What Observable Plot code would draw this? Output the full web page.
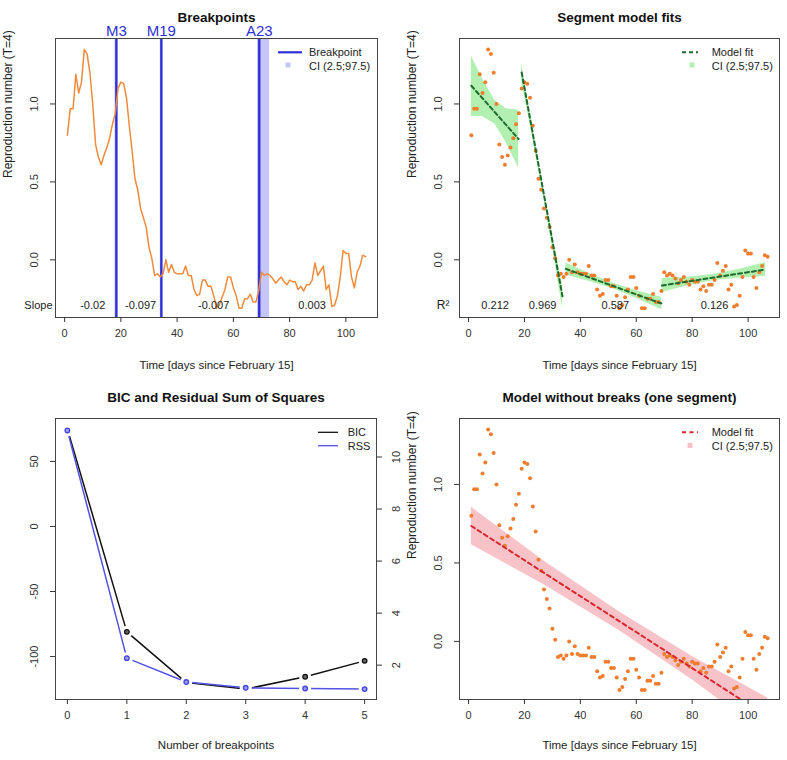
<!DOCTYPE html>
<html>
<head>
<meta charset="utf-8">
<script src="https://cdn.jsdelivr.net/npm/d3@7"></script>
<script src="https://cdn.jsdelivr.net/npm/@observablehq/plot@0.6"></script>
<style>
  html, body { margin: 0; padding: 0; background: #fff; }
  #wrap { position: relative; width: 787px; height: 760px; background: #fff; font-family: "Liberation Sans", Arial, Helvetica, sans-serif; }
  #wrap > * { position: absolute; }
</style>
</head>
<body>
<div id="wrap"></div>
<script>
// ---------- data ----------
const days = d3.range(1, 108);
const rValues = [
  0.80, 0.97, 0.97, 1.19, 1.07, 1.14, 1.35, 1.32, 1.20, 1.00,
  0.74, 0.66, 0.61, 0.67, 0.72, 0.78, 0.87, 0.94, 1.10, 1.14,
  1.13, 1.04, 0.86, 0.70, 0.52, 0.45, 0.33, 0.27, 0.21, 0.08,
  0.01, -0.10, -0.09, -0.11, -0.09, 0.00, -0.08, -0.03, -0.08, -0.09,
  -0.09, -0.09, -0.04, -0.10, -0.10, -0.19, -0.23, -0.22, -0.13, -0.13,
  -0.17, -0.17, -0.23, -0.31, -0.29, -0.24, -0.19, -0.11, -0.11, -0.18,
  -0.23, -0.31, -0.31, -0.25, -0.25, -0.22, -0.27, -0.27, -0.20, -0.08,
  -0.10, -0.09, -0.10, -0.12, -0.15, -0.13, -0.11, -0.14, -0.16, -0.13,
  -0.14, -0.14, -0.19, -0.17, -0.20, -0.16, -0.16, -0.13, -0.02, -0.10,
  -0.07, -0.04, -0.19, -0.16, -0.30, -0.29, -0.23, -0.11, 0.06, 0.04,
  0.04, -0.11, -0.18, -0.08, -0.04, 0.03, 0.02
];

// breakpoints
const bpLabels = ["M3", "M19", "A23"];
const bpDays = [18.4, 34.4, 69.2];
const bpCiLo = [17.9, 34.0, 68.6];
const bpCiHi = [18.9, 34.8, 72.9];

// slopes & R² per segment
const segLabelX = [10, 27, 53, 88];
const slopeLabels = ["-0.02", "-0.097", "-0.007", "0.003"];
const r2LabelX = [9.5, 26.5, 52.5, 88];
const r2Labels = ["0.212", "0.969", "0.587", "0.126"];

// segment model fits (x, fit, CI)
const segId  = [1, 1, 1, 1, 1,   2, 2, 2, 2, 2,   3, 3, 3, 3, 3,   4, 4, 4, 4, 4];
const segX   = [1, 5, 9.5, 13.5, 17.9,   19, 22.65, 26.3, 29.95, 33.6,   34.8, 43.35, 51.9, 60.45, 69,   69.2, 78.5, 87.8, 97, 106.3];
const segFit = [1.117, 1.036, 0.945, 0.864, 0.775,   1.202, 0.843, 0.484, 0.125, -0.234,   -0.058, -0.114, -0.169, -0.225, -0.280,   -0.165, -0.139, -0.113, -0.088, -0.062];
const segLo  = [0.92, 0.92, 0.87, 0.75, 0.59,   1.142, 0.808, 0.459, 0.085, -0.309,   -0.098, -0.139, -0.187, -0.250, -0.320,   -0.210, -0.167, -0.133, -0.116, -0.107];
const segHi  = [1.31, 1.16, 1.02, 0.97, 0.96,   1.262, 0.878, 0.509, 0.165, -0.159,   -0.018, -0.089, -0.151, -0.200, -0.240,   -0.120, -0.111, -0.093, -0.060, -0.017];

// model without breaks
const nbX   = [1, 27.5, 54, 80.5, 107];
const nbFit = [0.735, 0.431, 0.128, -0.176, -0.480];
const nbLo  = [0.615, 0.356, 0.068, -0.251, -0.600];
const nbHi  = [0.855, 0.506, 0.188, -0.101, -0.360];

// BIC and RSS
const nBreaks = [0, 1, 2, 3, 4, 5];
const bicValues = [75, -81, -120, -125, -115.5, -103.3];
const rssValues = [11.02, 2.27, 1.35, 1.13, 1.10, 1.08];

// ticks
const dayTicks = [0, 20, 40, 60, 80, 100];
const rTicks = [0, 0.5, 1.0];
const bicTicks = [-100, -50, 0, 50];
const rssTicks = [2, 4, 6, 8, 10];

// ---------- tables ----------
const series = days.map((d, i) => ({day: d, r: rValues[i]}));
const bps = bpDays.map((d, i) => ({day: d, label: bpLabels[i], lo: bpCiLo[i], hi: bpCiHi[i]}));
const slopes = segLabelX.map((x, i) => ({x, label: slopeLabels[i]}));
const r2s = r2LabelX.map((x, i) => ({x, label: r2Labels[i]}));
const segs = segX.map((x, i) => ({seg: segId[i], x, fit: segFit[i], lo: segLo[i], hi: segHi[i]}));
const nb = nbX.map((x, i) => ({x, fit: nbFit[i], lo: nbLo[i], hi: nbHi[i]}));
const bic = nBreaks.map((n, i) => ({n, bic: bicValues[i], rss: rssValues[i]}));

// ---------- styling ----------
const FONT = "Liberation Sans, Arial, Helvetica, sans-serif";
const ORANGE = "#ef7d2d";
const BLUE = "#2f2fd6";
const baseStyle = {fontFamily: FONT, fontSize: "11px", background: "transparent", color: "#333", overflow: "visible"};
const xDomain = [-3.24, 111.24];
const yDomain = [-0.37, 1.42];
const fmt1 = d3.format(".1f");

function place(el, left, top) {
  el.style.left = left + "px";
  el.style.top = top + "px";
  document.getElementById("wrap").appendChild(el);
}

function commonMarks(title, xTitle, yTitle, xTicks, yTicks, yFmt, xTitleDy) {
  const m = [
    Plot.frame({stroke: "#444"}),
    Plot.axisX({ticks: xTicks, tickSize: 5, tickPadding: 7, label: null, tickFormat: d => String(d)}),
    Plot.axisY({ticks: yTicks, tickFormat: yFmt, tickSize: 5, tickPadding: 13, tickRotate: -90, label: null}),
    Plot.text([title], {text: d => d, frameAnchor: "top", dy: -26.5, fontWeight: "bold", fontSize: 13.5, fill: "#111"}),
    Plot.text([xTitle], {text: d => d, frameAnchor: "bottom", dy: xTitleDy, fontSize: 11.5, fill: "#222"})
  ];
  if (yTitle) m.push(Plot.text([yTitle], {text: d => d, frameAnchor: "left", rotate: -90, dx: -47, fontSize: 12, fill: "#222"}));
  return m;
}

// ---------- panel 1: Breakpoints ----------
const p1 = Plot.plot({
  width: 393, height: 380, marginTop: 38, marginBottom: 63, marginLeft: 55, marginRight: 16,
  style: baseStyle,
  x: {domain: xDomain}, y: {domain: yDomain},
  marks: [
    Plot.rect(bps, {x1: "lo", x2: "hi", fill: "#c6c6f6"}),
    Plot.ruleX(bps, {x: "day", stroke: BLUE, strokeWidth: 2.4}),
    Plot.line(series, {x: "day", y: "r", stroke: "#f08a3c", strokeWidth: 1.5}),
    Plot.text(bps, {x: "day", text: "label", frameAnchor: "top", lineAnchor: "bottom", dy: -2.5, fill: BLUE, fontSize: 15}),
    Plot.text(slopes, {x: "x", text: "label", frameAnchor: "bottom", dy: -8.7, fill: "#222"}),
    Plot.text(["Slope"], {text: d => d, frameAnchor: "bottom-left", textAnchor: "end", dx: -3, dy: -8.7, fill: "#222"}),
    ...commonMarks("Breakpoints", "Time [days since February 15]", "Reproduction number (T=4)", dayTicks, rTicks, fmt1, 51)
  ]
});
place(p1, 0, 0);

// ---------- panel 2: Segment model fits ----------
const p2 = Plot.plot({
  width: 394, height: 380, marginTop: 38, marginBottom: 63, marginLeft: 66, marginRight: 8,
  style: baseStyle,
  x: {domain: xDomain}, y: {domain: yDomain},
  marks: [
    Plot.areaY(segs, {x: "x", y1: "lo", y2: "hi", z: "seg", fill: "#b2f0b2"}),
    Plot.dot(series, {x: "day", y: "r", r: 2, fill: ORANGE}),
    Plot.line(segs, {x: "x", y: "fit", z: "seg", stroke: "#1d6b2c", strokeWidth: 2, strokeDasharray: "4,3"}),
    Plot.text(r2s, {x: "x", text: "label", frameAnchor: "bottom", dy: -8.7, fill: "#222"}),
    Plot.text(["R²"], {text: d => d, frameAnchor: "bottom-left", textAnchor: "end", dx: -10, dy: -8.7, fill: "#222", fontSize: 12}),
    ...commonMarks("Segment model fits", "Time [days since February 15]", "Reproduction number (T=4)", dayTicks, rTicks, fmt1, 51)
  ]
});
place(p2, 393, 0);

// ---------- panel 3: BIC and RSS ----------
const p3 = Plot.plot({
  width: 393, height: 380, marginTop: 38, marginBottom: 61, marginLeft: 55, marginRight: 17,
  style: baseStyle,
  x: {domain: [-0.2, 5.2]}, y: {domain: [-133, 83]},
  marks: [
    Plot.line(bic, {x: "n", y: "bic", stroke: "#111", strokeWidth: 1.5}),
    Plot.dot(bic, {x: "n", y: "bic", r: 6, fill: "white"}),
    Plot.dot(bic, {x: "n", y: "bic", r: 2.3, stroke: "#111", strokeWidth: 1.3, fill: "#666"}),
    Plot.frame({stroke: "#444"}),
    Plot.axisX({ticks: nBreaks, tickSize: 5, tickPadding: 7, label: null, tickFormat: d => String(d)}),
    Plot.axisY({ticks: bicTicks, tickFormat: d => String(d), tickSize: 5, tickPadding: 13, tickRotate: -90, label: null}),
    Plot.text(["BIC and Residual Sum of Squares"], {text: d => d, frameAnchor: "top", dy: -26, fontWeight: "bold", fontSize: 13.5, fill: "#111"}),
    Plot.text(["Number of breakpoints"], {text: d => d, frameAnchor: "bottom", dy: 49, fontSize: 11.5, fill: "#222"})
  ]
});
place(p3, 0, 380);

const p3b = Plot.plot({
  width: 420, height: 380, marginTop: 38, marginBottom: 61, marginLeft: 55, marginRight: 44,
  style: baseStyle,
  x: {domain: [-0.2, 5.2], axis: null}, y: {domain: [0.68, 11.48]},
  marks: [
    Plot.line(bic, {x: "n", y: "rss", stroke: "#5252e4", strokeWidth: 1.5}),
    Plot.dot(bic, {x: "n", y: "rss", r: 6, fill: "white"}),
    Plot.dot(bic, {x: "n", y: "rss", r: 2.3, stroke: "#4545e0", strokeWidth: 1.3, fill: "#9a9af0"}),
    Plot.axisY({anchor: "right", ticks: rssTicks, tickFormat: d => String(d), tickSize: 5, tickPadding: 18, tickRotate: -90, label: null})
  ]
});
place(p3b, 0, 380);

// ---------- panel 4: Model without breaks ----------
const p4 = Plot.plot({
  width: 394, height: 380, marginTop: 38, marginBottom: 61, marginLeft: 66, marginRight: 8,
  style: baseStyle,
  x: {domain: xDomain}, y: {domain: yDomain},
  marks: [
    Plot.areaY(nb, {x: "x", y1: "lo", y2: "hi", fill: "#f7c3c9", clip: true}),
    Plot.dot(series, {x: "day", y: "r", r: 2, fill: ORANGE}),
    Plot.line(nb, {x: "x", y: "fit", stroke: "#d8262e", strokeWidth: 2, strokeDasharray: "4,3.5", clip: true}),
    ...commonMarks("Model without breaks (one segment)", "Time [days since February 15]", "Reproduction number (T=4)", dayTicks, rTicks, fmt1, 49)
  ]
});
place(p4, 393, 380);

// ---------- legends ----------
const legendSvg = `
<svg width="787" height="760" xmlns="http://www.w3.org/2000/svg" style="pointer-events:none;font-family:${FONT};font-size:11px;fill:#222">
  <line x1="278" x2="302" y1="52.3" y2="52.3" stroke="${BLUE}" stroke-width="2.2"/>
  <text x="309" y="52.3" dominant-baseline="central">Breakpoint</text>
  <rect x="285.5" y="62.5" width="5" height="5" fill="#c6c6f6"/>
  <text x="309" y="65.5" dominant-baseline="central">CI (2.5;97.5)</text>

  <line x1="682" x2="698" y1="52.3" y2="52.3" stroke="#1d6b2c" stroke-width="2" stroke-dasharray="4,3"/>
  <text x="711.7" y="52.3" dominant-baseline="central">Model fit</text>
  <rect x="689.5" y="62.5" width="5" height="5" fill="#b2f0b2"/>
  <text x="711.7" y="65.5" dominant-baseline="central">CI (2.5;97.5)</text>

  <line x1="318" x2="338" y1="432.3" y2="432.3" stroke="#111" stroke-width="1.3"/>
  <text x="347.7" y="432.3" dominant-baseline="central">BIC</text>
  <line x1="318" x2="338" y1="445.7" y2="445.7" stroke="#5252e4" stroke-width="1.3"/>
  <text x="347.7" y="445.7" dominant-baseline="central">RSS</text>

  <line x1="682" x2="698" y1="432.3" y2="432.3" stroke="#d8262e" stroke-width="2" stroke-dasharray="4,3.5"/>
  <text x="711.7" y="432.3" dominant-baseline="central">Model fit</text>
  <rect x="687.5" y="443" width="5" height="5" fill="#f7c3c9"/>
  <text x="711.7" y="445.7" dominant-baseline="central">CI (2.5;97.5)</text>
</svg>`;
const lg = document.createElement("div");
lg.innerHTML = legendSvg;
lg.style.pointerEvents = "none";
place(lg, 0, 0);
</script>
</body>
</html>
